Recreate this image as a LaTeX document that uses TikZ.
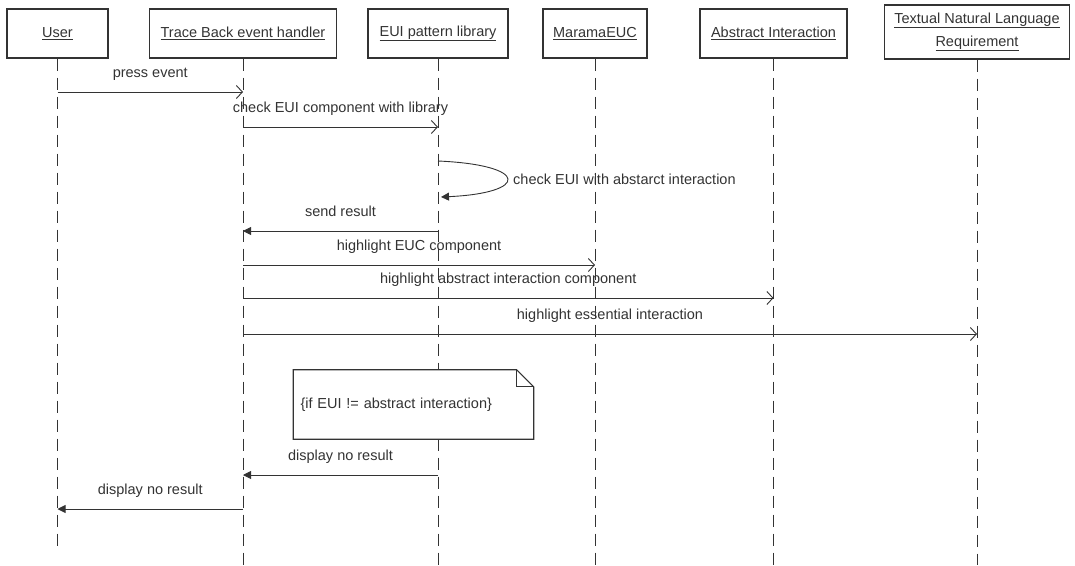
\documentclass[tikz,border=0pt]{standalone}
\usepackage{fontspec}
\setmainfont{Liberation Sans}
\usetikzlibrary{arrows.meta,positioning,calc}

\begin{document}
\begin{tikzpicture}[x=1pt, y=-1pt, color=black!80,
  actor/.style={draw, line width=1.2pt, minimum height=49pt, align=center,
                font=\fontsize{14.5}{23}\selectfont},
  life/.style={line width=1pt, dash pattern=on 12pt off 7pt},
  msg/.style={-{Straight Barb[length=6pt,width=13pt]}, line width=0.9pt},
  ret/.style={-{Triangle[length=8pt,width=8pt]}, line width=0.9pt},
  lbl/.style={font=\fontsize{14.5}{17}\selectfont, inner sep=0pt,
              text height=10.5pt, text depth=3pt, above=11pt},
  note/.style={fill=white, minimum height=69pt, text width=226pt, inner xsep=7pt,
               align=left, font=\fontsize{14.5}{17}\selectfont}
]
\useasboundingbox (0,0) rectangle (1075,565);

% Participants
\node[actor, minimum width=101pt] (user) at (57.5,33.5) {\underline{User}};
\node[actor, minimum width=187pt] (trace) at (243,33.5) {\underline{Trace Back event handler}};
\node[actor, minimum width=140pt] (eui) at (438,33.5) {\underline{EUI pattern library}};
\node[actor, minimum width=104pt] (marama) at (595,33.5) {\underline{MaramaEUC}};
\node[actor, minimum width=147pt] (abs) at (773.5,33.5) {\underline{Abstract Interaction}};
\node[actor, minimum width=185pt, minimum height=54pt] (req) at (977,32)
  {\underline{Textual Natural Language}\\\underline{Requirement}};

% Lifelines
\coordinate (userEnd) at (user |- 0,551);
\coordinate (traceEnd) at (trace |- 0,565);
\coordinate (euiEnd) at (eui |- 0,565);
\coordinate (maramaEnd) at (marama |- 0,565);
\coordinate (absEnd) at (abs |- 0,565);
\coordinate (reqEnd) at (req |- 0,565);
\draw[life] (user) -- (userEnd);
\draw[life] (trace) -- (traceEnd);
\draw[life] (eui) -- (euiEnd);
\draw[life] (marama) -- (maramaEnd);
\draw[life] (abs) -- (absEnd);
\draw[life] (req) -- (reqEnd);

% Messages
\draw[msg] (user |- 0,92) -- node[lbl]{press event} (trace |- 0,92);
\draw[msg] (trace |- 0,127) -- node[lbl]{check EUI component with library} (eui |- 0,127);
\draw[ret] (eui |- 0,161) .. controls +(92,4) and +(88,-4) .. ($(eui |- 0,197)+(3,0)$);
\node[font=\fontsize{14.5}{17}\selectfont, anchor=west, inner sep=0pt] (selfmsg) at (513,179)
  {check EUI with abstarct interaction};
\draw[ret] (eui |- 0,231) -- node[lbl]{send result} (trace |- 0,231);
\draw[msg] (trace |- 0,265) -- node[lbl]{highlight EUC component} (marama |- 0,265);
\draw[msg] (trace |- 0,298) -- node[lbl]{highlight abstract interaction component} (abs |- 0,298);
\draw[msg] (trace |- 0,334) -- node[lbl]{highlight essential interaction} (req |- 0,334);

% Condition note
\node[note] (cond) at (413.5,404.5) {\{if EUI != abstract interaction\}};
\draw[line width=1.2pt] (cond.north west) -- ($(cond.north east)+(-17,0)$)
  -- ($(cond.north east)+(0,17)$) -- (cond.south east) -- (cond.south west) -- cycle;
\draw[line width=0.9pt] ($(cond.north east)+(-17,0)$) -- ($(cond.north east)+(-17,17)$)
  -- ($(cond.north east)+(0,17)$);

\draw[ret] (eui |- 0,475) -- node[lbl]{display no result} (trace |- 0,475);
\draw[ret] (trace |- 0,509) -- node[lbl]{display no result} (user |- 0,509);
\end{tikzpicture}
\end{document}
